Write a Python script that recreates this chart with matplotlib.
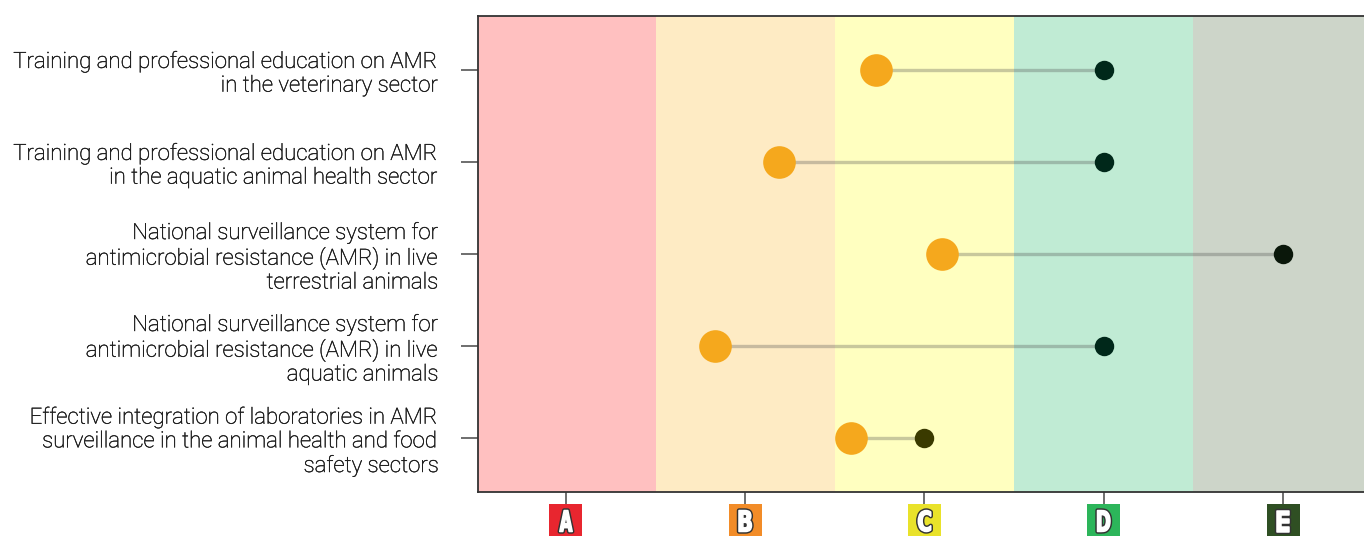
import matplotlib
matplotlib.use("Agg")
import matplotlib.pyplot as plt
import matplotlib.patheffects as pe
from matplotlib.patches import Rectangle, PathPatch
from matplotlib.textpath import TextPath
from matplotlib.font_manager import FontProperties
from matplotlib.transforms import blended_transform_factory, Affine2D, IdentityTransform

categories = [
    "Training and professional education on AMR\nin the veterinary sector",
    "Training and professional education on AMR\nin the aquatic animal health sector",
    "National surveillance system for\nantimicrobial resistance (AMR) in live\nterrestrial animals",
    "National surveillance system for\nantimicrobial resistance (AMR) in live\naquatic animals",
    "Effective integration of laboratories in AMR\nsurveillance in the animal health and food\nsafety sectors",
]
current_scores = [2.73, 2.19, 3.10, 1.83, 2.59]
target_levels = [4, 4, 5, 4, 3]
level_labels = ["A", "B", "C", "D", "E"]
level_values = [1, 2, 3, 4, 5]

band_colors = ["#ffc0c0", "#feebc4", "#ffffc0", "#c0ebd4", "#cdd5c9"]
box_colors = ["#e8262f", "#f28c28", "#e9e22a", "#2cb55a", "#2f4f23"]
dot_colors = {3: "#3a3a00", 4: "#00281a", 5: "#0a170a"}

fig = plt.figure(figsize=(13.64, 5.36), dpi=100)
ax = fig.add_axes([478/1364, 1 - 492/536, (1364-478)/1364, (492-16)/536])

for v, c in zip(level_values, band_colors):
    ax.axvspan(v - 0.5, v + 0.5, color=c, zorder=0, lw=0)

ys = list(range(len(categories)))
for y, cur, tgt in zip(ys, current_scores, target_levels):
    ax.plot([cur, tgt], [y, y], color="#4a4a4a", alpha=0.3, lw=2.4, zorder=2, solid_capstyle="butt")
    ax.plot(tgt, y, "o", ms=14, color=dot_colors[tgt], mec="none", zorder=3)
    ax.plot(cur, y, "o", ms=23.5, color="#f5a81d", mec="none", zorder=4)

ax.set_xlim(1 - 88/179.3, 5 + 81/179.3)
ax.set_ylim(len(categories) - 1 + 0.587, -0.587)

ax.set_yticks(ys)
ax.set_yticklabels(categories, fontsize=16, family=["Roboto"], fontweight="light",
                   color="#1a1a1a", ha="right", linespacing=1.17)
for lbl in ax.get_yticklabels():
    lbl.set_path_effects([pe.withStroke(linewidth=0.3, foreground="#1a1a1a")])
ax.tick_params(axis="y", length=12, color="#555555", width=1.2, pad=16)

ax.set_xticks(level_values)
ax.set_xticklabels([""] * len(level_values))
ax.tick_params(axis="x", length=13, color="#555555", width=1.2)

trans = blended_transform_factory(ax.transData, ax.transAxes)
bw = 33 / 179.3
bh = 34 / 476
btop = -12 / 476
fp = FontProperties(family="DejaVu Sans", weight="bold")
glyph_w, glyph_h = 12.5, 21.0
for v, lab, bc in zip(level_values, level_labels, box_colors):
    ax.add_patch(Rectangle((v - bw / 2, btop - bh), bw, bh, transform=trans,
                           facecolor=bc, edgecolor="none", clip_on=False, zorder=5))
    tp = TextPath((0, 0), lab, size=1, prop=fp)
    ext = tp.get_extents()
    cx, _ = ax.transData.transform((v, 0))
    cy = 536 - 521
    tr = (Affine2D()
          .translate(-(ext.x0 + ext.x1) / 2, -(ext.y0 + ext.y1) / 2)
          .scale(glyph_w / ext.width, glyph_h / ext.height)
          .translate(cx, cy))
    gpath = tr.transform_path(tp)
    fig.add_artist(PathPatch(gpath, transform=IdentityTransform(), facecolor="#333333",
                             edgecolor="#333333", lw=3.2, joinstyle="round", zorder=6, clip_on=False))
    fig.add_artist(PathPatch(gpath, transform=IdentityTransform(), facecolor="white",
                             edgecolor="white", lw=1.1, joinstyle="round", zorder=7, clip_on=False))

for s in ["top", "left", "bottom"]:
    ax.spines[s].set_color("#333333")
    ax.spines[s].set_linewidth(1.3)
ax.spines["right"].set_visible(False)

fig.savefig("out.png", dpi=100)
